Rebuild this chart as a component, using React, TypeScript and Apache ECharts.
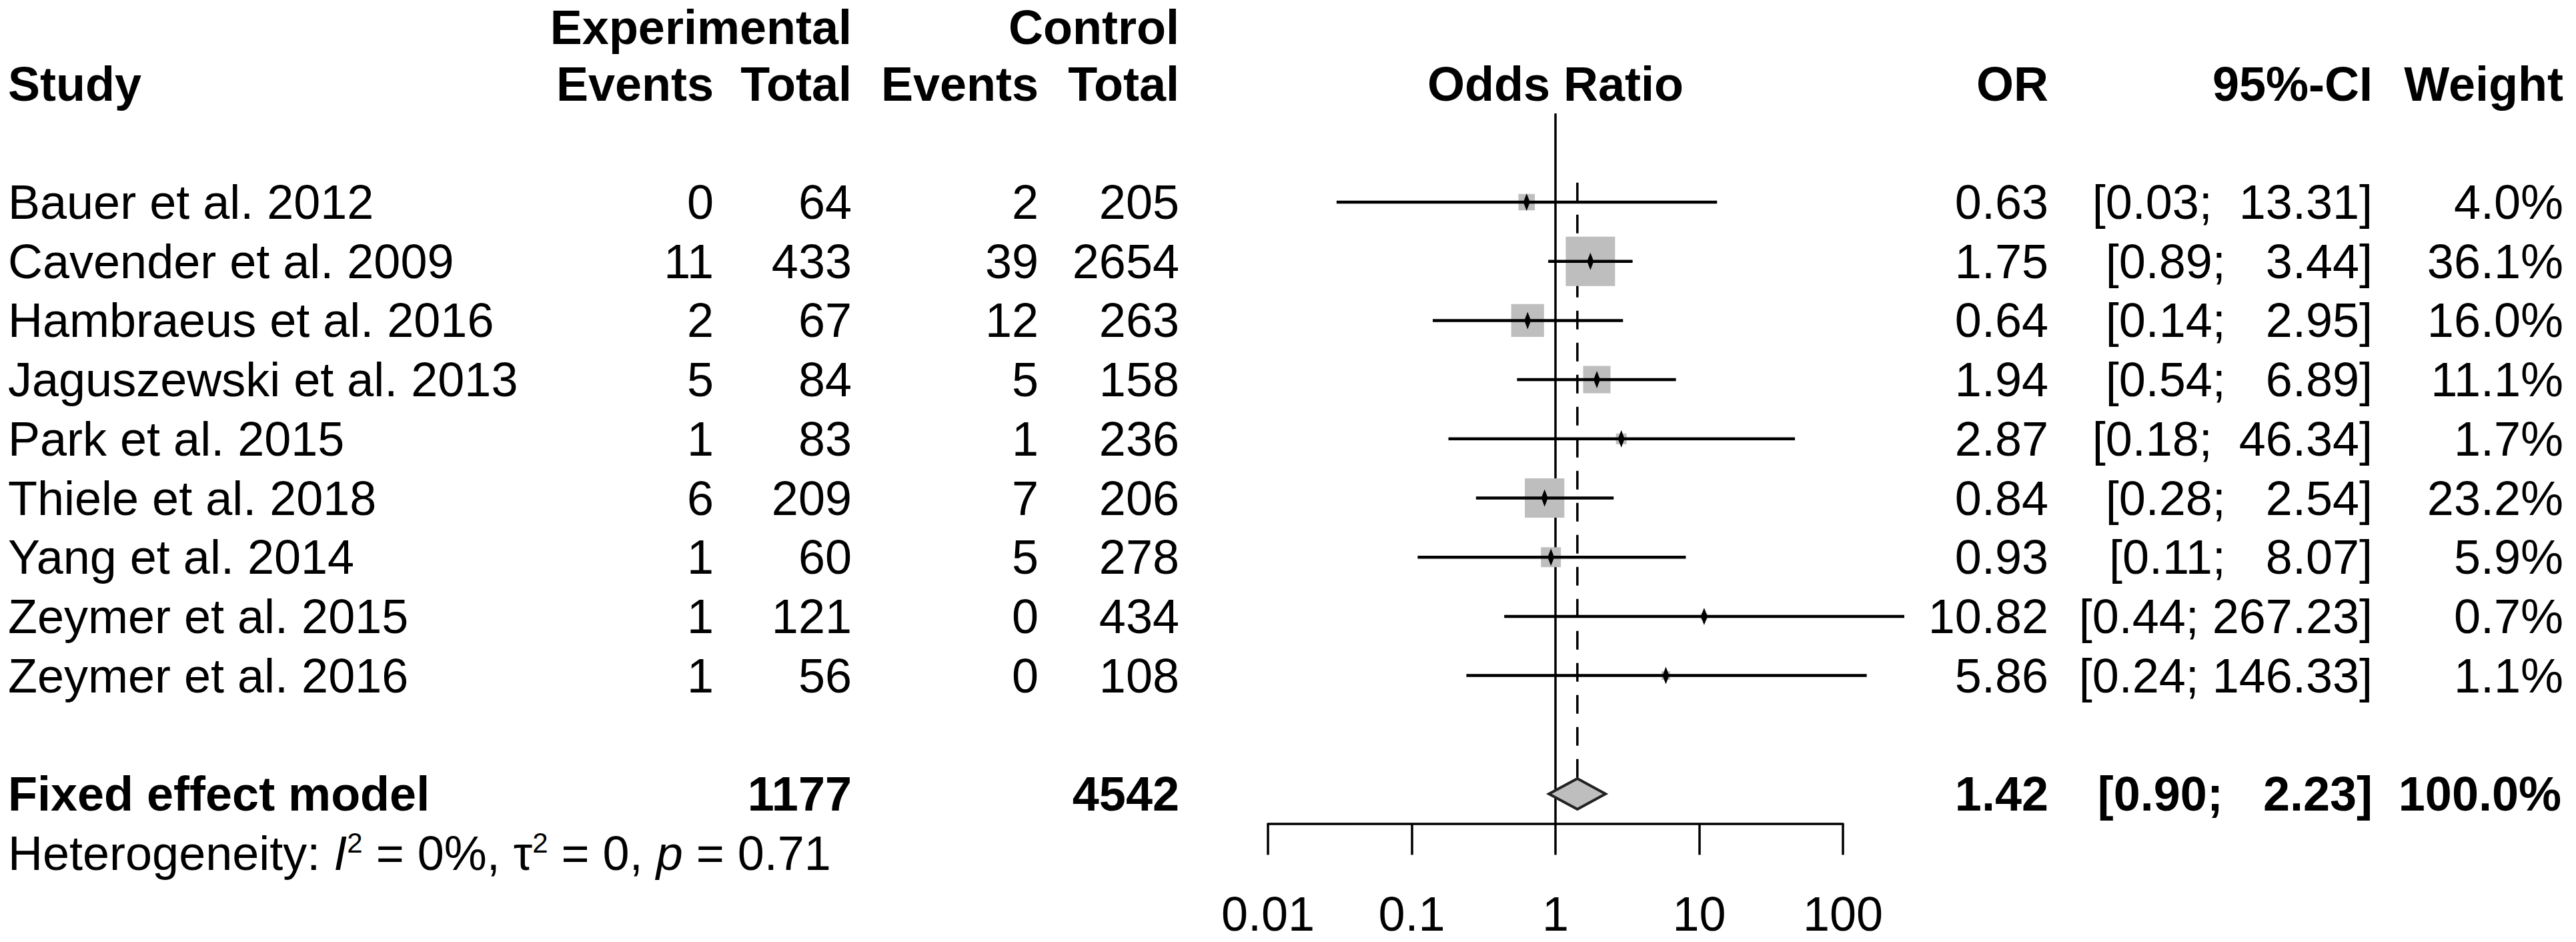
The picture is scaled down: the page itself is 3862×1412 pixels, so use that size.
import React, { useEffect, useRef } from "react";
import * as echarts from "echarts";

// ---------------- data ----------------
const STUDIES = [
  "Bauer et al. 2012",
  "Cavender et al. 2009",
  "Hambraeus et al. 2016",
  "Jaguszewski et al. 2013",
  "Park et al. 2015",
  "Thiele et al. 2018",
  "Yang et al. 2014",
  "Zeymer et al. 2015",
  "Zeymer et al. 2016",
];
const EXP_EVENTS = [0, 11, 2, 5, 1, 6, 1, 1, 1];
const EXP_TOTAL = [64, 433, 67, 84, 83, 209, 60, 121, 56];
const CTRL_EVENTS = [2, 39, 12, 5, 1, 7, 5, 0, 0];
const CTRL_TOTAL = [205, 2654, 263, 158, 236, 206, 278, 434, 108];
const OR = [0.63, 1.75, 0.64, 1.94, 2.87, 0.84, 0.93, 10.82, 5.86];
const CI_LOWER = [0.03, 0.89, 0.14, 0.54, 0.18, 0.28, 0.11, 0.44, 0.24];
const CI_UPPER = [13.31, 3.44, 2.95, 6.89, 46.34, 2.54, 8.07, 267.23, 146.33];
const WEIGHT = [4.0, 36.1, 16.0, 11.1, 1.7, 23.2, 5.9, 0.7, 1.1];

const POOLED_LABEL = "Fixed effect model";
const POOLED_EXP_TOTAL = 1177;
const POOLED_CTRL_TOTAL = 4542;
const POOLED_OR = 1.42;
const POOLED_LOWER = 0.9;
const POOLED_UPPER = 2.23;
const POOLED_WEIGHT = 100.0;

const HET_I2 = "0%";
const HET_TAU2 = "0";
const HET_P = "0.71";

const X_TICKS = [0.01, 0.1, 1, 10, 100];
const X_TICK_LABELS = ["0.01", "0.1", "1", "10", "100"];

// ---------------- layout / style ----------------
const W = 3862;
const H = 1412;
const FONT = "'Liberation Sans', Arial, Helvetica, sans-serif";
const FS = 72;
const ROW0_Y = 303;
const ROW_H = 88.7;
const Y_MIN = -1.5;
const Y_MAX = 10.5;
const PLOT_LEFT = 1901;
const PLOT_WIDTH = 862;
const NB = "\u00A0";

const COL = {
  study: 12,
  expEvents: 1070,
  expTotal: 1277,
  ctrlEvents: 1557,
  ctrlTotal: 1768,
  or: 3071,
  ci: 3557,
  weight: 3843,
};

const ROW_HEAD1 = -2.95;
const ROW_HEAD2 = -2;
const ROW_POOLED = 10;
const ROW_HET = 11;

type Cell = {
  row: number;
  x: number | "null";
  text: string;
  bold?: boolean;
  align: "left" | "right" | "center";
  het?: boolean;
};

const fmtCI = (lo: number, up: number) =>
  "[" + lo.toFixed(2) + ";" + NB + up.toFixed(2).padStart(6, NB) + "]";

function buildCells(): Cell[] {
  const cells: Cell[] = [];
  // headers
  cells.push({ row: ROW_HEAD1, x: COL.expTotal, text: "Experimental", bold: true, align: "right" });
  cells.push({ row: ROW_HEAD1, x: COL.ctrlTotal, text: "Control", bold: true, align: "right" });
  cells.push({ row: ROW_HEAD2, x: COL.study, text: "Study", bold: true, align: "left" });
  cells.push({ row: ROW_HEAD2, x: COL.expEvents, text: "Events", bold: true, align: "right" });
  cells.push({ row: ROW_HEAD2, x: COL.expTotal, text: "Total", bold: true, align: "right" });
  cells.push({ row: ROW_HEAD2, x: COL.ctrlEvents, text: "Events", bold: true, align: "right" });
  cells.push({ row: ROW_HEAD2, x: COL.ctrlTotal, text: "Total", bold: true, align: "right" });
  cells.push({ row: ROW_HEAD2, x: "null", text: "Odds Ratio", bold: true, align: "center" });
  cells.push({ row: ROW_HEAD2, x: COL.or, text: "OR", bold: true, align: "right" });
  cells.push({ row: ROW_HEAD2, x: COL.ci, text: "95%-CI", bold: true, align: "right" });
  cells.push({ row: ROW_HEAD2, x: COL.weight, text: "Weight", bold: true, align: "right" });
  // studies
  STUDIES.forEach((s, i) => {
    cells.push({ row: i, x: COL.study, text: s, align: "left" });
    cells.push({ row: i, x: COL.expEvents, text: String(EXP_EVENTS[i]), align: "right" });
    cells.push({ row: i, x: COL.expTotal, text: String(EXP_TOTAL[i]), align: "right" });
    cells.push({ row: i, x: COL.ctrlEvents, text: String(CTRL_EVENTS[i]), align: "right" });
    cells.push({ row: i, x: COL.ctrlTotal, text: String(CTRL_TOTAL[i]), align: "right" });
    cells.push({ row: i, x: COL.or, text: OR[i].toFixed(2), align: "right" });
    cells.push({ row: i, x: COL.ci, text: fmtCI(CI_LOWER[i], CI_UPPER[i]), align: "right" });
    cells.push({ row: i, x: COL.weight, text: WEIGHT[i].toFixed(1) + "%", align: "right" });
  });
  // pooled
  cells.push({ row: ROW_POOLED, x: COL.study, text: POOLED_LABEL, bold: true, align: "left" });
  cells.push({ row: ROW_POOLED, x: COL.expTotal, text: String(POOLED_EXP_TOTAL), bold: true, align: "right" });
  cells.push({ row: ROW_POOLED, x: COL.ctrlTotal, text: String(POOLED_CTRL_TOTAL), bold: true, align: "right" });
  cells.push({ row: ROW_POOLED, x: COL.or, text: POOLED_OR.toFixed(2), bold: true, align: "right" });
  cells.push({ row: ROW_POOLED, x: COL.ci, text: fmtCI(POOLED_LOWER, POOLED_UPPER), bold: true, align: "right" });
  cells.push({ row: ROW_POOLED, x: COL.weight - 3, text: POOLED_WEIGHT.toFixed(1) + "%", bold: true, align: "right" });
  // heterogeneity
  cells.push({ row: ROW_HET, x: COL.study, text: "", align: "left", het: true });
  return cells;
}

const CELLS = buildCells();

const hetRich = () => {
  const sp = (s: string) => s.replace(/ /g, NB);
  return (
    "{n|" + sp("Heterogeneity: ") + "}{i|I}{s|2}{n|" + sp(" = " + HET_I2 + ", \u03C4") +
    "}{s|2}{n|" + sp(" = " + HET_TAU2 + ", ") + "}{i|p}{n|" + sp(" = " + HET_P) + "}"
  );
};

export default function App() {
  const ref = useRef<HTMLDivElement>(null);

  useEffect(() => {
    if (!ref.current) return;
    const chart = echarts.init(ref.current, undefined, { renderer: "svg" });

    const gridTop = ROW0_Y + Y_MIN * ROW_H;
    const gridHeight = (Y_MAX - Y_MIN) * ROW_H;

    const option: any = {
      animation: false,
      backgroundColor: "#ffffff",
      grid: { left: PLOT_LEFT, top: gridTop, width: PLOT_WIDTH, height: gridHeight, containLabel: false },
      xAxis: {
        type: "log",
        logBase: 10,
        min: X_TICKS[0],
        max: X_TICKS[X_TICKS.length - 1],
        position: "bottom",
        axisLine: { show: true, onZero: false, lineStyle: { color: "#000", width: 3.5 } },
        axisTick: { show: true, length: 47, lineStyle: { color: "#000", width: 3.5 } },
        splitLine: { show: false },
        minorTick: { show: false },
        axisLabel: {
          show: true,
          margin: 100,
          fontSize: FS,
          fontFamily: FONT,
          color: "#000",
          formatter: (v: number) => {
            const i = X_TICKS.findIndex((t) => Math.abs(Math.log10(t) - Math.log10(v)) < 1e-6);
            return i >= 0 ? X_TICK_LABELS[i] : "";
          },
        },
      },
      yAxis: {
        type: "value",
        min: Y_MIN,
        max: Y_MAX,
        inverse: true,
        show: false,
        splitLine: { show: false },
      },
      series: [
        {
          // line of no effect
          type: "custom",
          z: 1,
          clip: false,
          data: [[1, Y_MIN, Y_MAX]],
          encode: { x: 0, y: [1, 2] },
          renderItem: (params: any, api: any) => {
            const a = api.coord([api.value(0), api.value(1)]);
            const b = api.coord([api.value(0), api.value(2)]);
            return {
              type: "line",
              shape: { x1: a[0], y1: a[1], x2: b[0], y2: b[1] },
              style: { stroke: "#000", lineWidth: 3.5 },
            };
          },
        },
        {
          // pooled estimate: dashed line + diamond
          type: "custom",
          z: 2,
          clip: false,
          data: [[POOLED_LOWER, POOLED_UPPER, POOLED_OR, ROW_POOLED]],
          encode: { x: [0, 1, 2], y: 3 },
          renderItem: (params: any, api: any) => {
            const row = api.value(3);
            const lo = api.coord([api.value(0), row]);
            const up = api.coord([api.value(1), row]);
            const est = api.coord([api.value(2), row]);
            const top = api.coord([api.value(2), -0.33]);
            const hh = 23;
            return {
              type: "group",
              children: [
                {
                  type: "line",
                  shape: { x1: top[0], y1: top[1], x2: est[0], y2: est[1] - hh },
                  style: { stroke: "#000", lineWidth: 3.5, lineDash: [28, 20] },
                },
                {
                  type: "polygon",
                  shape: {
                    points: [
                      [lo[0], lo[1]],
                      [est[0], est[1] - hh],
                      [up[0], up[1]],
                      [est[0], est[1] + hh],
                    ],
                  },
                  style: { fill: "#BEBEBE", stroke: "#222", lineWidth: 4 },
                },
              ],
            };
          },
        },
        {
          // individual studies
          type: "custom",
          z: 3,
          clip: false,
          data: STUDIES.map((_, i) => [CI_LOWER[i], CI_UPPER[i], OR[i], i, WEIGHT[i]]),
          encode: { x: [0, 1, 2], y: 3 },
          renderItem: (params: any, api: any) => {
            const row = api.value(3);
            const lo = api.coord([api.value(0), row]);
            const up = api.coord([api.value(1), row]);
            const pt = api.coord([api.value(2), row]);
            const side = 12.3 * Math.sqrt(api.value(4));
            return {
              type: "group",
              children: [
                {
                  type: "rect",
                  shape: { x: pt[0] - side / 2, y: pt[1] - side / 2, width: side, height: side },
                  style: { fill: "#BEBEBE" },
                },
                {
                  type: "line",
                  shape: { x1: lo[0], y1: lo[1], x2: up[0], y2: up[1] },
                  style: { stroke: "#000", lineWidth: 4.5 },
                },
                {
                  type: "polygon",
                  shape: {
                    points: [
                      [pt[0], pt[1] - 13],
                      [pt[0] + 5, pt[1]],
                      [pt[0], pt[1] + 13],
                      [pt[0] - 5, pt[1]],
                    ],
                  },
                  style: { fill: "#000" },
                },
              ],
            };
          },
        },
        {
          // table text
          type: "custom",
          z: 4,
          clip: false,
          data: CELLS.map((c) => [1, c.row]),
          encode: { x: 0, y: 1 },
          renderItem: (params: any, api: any) => {
            const c = CELLS[params.dataIndex];
            const p = api.coord([1, api.value(1)]);
            const x = c.x === "null" ? p[0] : c.x;
            if (c.het) {
              return {
                type: "text",
                x: x,
                y: p[1],
                style: {
                  text: hetRich(),
                  textAlign: "left",
                  textVerticalAlign: "middle",
                  align: "left",
                  verticalAlign: "middle",
                  fill: "#000",
                  rich: {
                    n: { fontSize: FS, fontFamily: FONT, lineHeight: FS, fill: "#000" },
                    i: { fontSize: FS, fontFamily: FONT, fontStyle: "italic", lineHeight: FS, fill: "#000" },
                    s: { fontSize: 42, fontFamily: FONT, lineHeight: 46, verticalAlign: "top", fill: "#000" },
                  },
                },
              };
            }
            return {
              type: "text",
              x: x,
              y: p[1],
              style: {
                text: c.text,
                font: (c.bold ? "bold " : "") + FS + "px " + FONT,
                fontSize: FS,
                fontFamily: FONT,
                fontWeight: c.bold ? "bold" : "normal",
                textAlign: c.align,
                textVerticalAlign: "middle",
                align: c.align,
                verticalAlign: "middle",
                fill: "#000",
              },
            };
          },
        },
      ],
    };

    chart.setOption(option);
    return () => {
      chart.dispose();
    };
  }, []);

  return (
    <div
      ref={ref}
      style={{ position: "absolute", left: 0, top: 0, width: W, height: H, background: "#fff" }}
    />
  );
}
